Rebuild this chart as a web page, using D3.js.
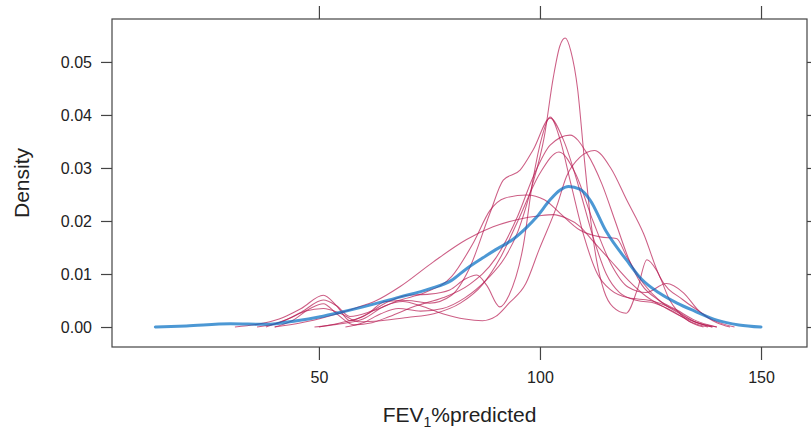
<!DOCTYPE html>
<html>
<head>
<meta charset="utf-8">
<script src="https://cdn.jsdelivr.net/npm/d3@7"></script>
<style>
  body { margin: 0; background: #fff; }
  svg text { font-family: "Liberation Sans", Arial, sans-serif; fill: #222; }
</style>
</head>
<body>
<svg id="chart" width="811" height="437"></svg>
<script>
// density of the observed values, [FEV1 %pred, density]
const observed = [[13,0],[20,0.0002],[30,0.0006],[38,0.0005],[45,0.0012],[50,0.0019],[55,0.0028],[60,0.0038],
  [68,0.0056],[75,0.0072],[80,0.0088],[83.4,0.011],[87,0.013],[90,0.0146],[94,0.0166],[97,0.0188],[99.2,0.0207],
  [102.3,0.024],[104.5,0.0258],[106.5,0.0265],[109,0.026],[111.3,0.024],[115,0.018],[119.6,0.0126],[123,0.009],
  [127,0.0064],[131,0.0045],[135,0.003],[140,0.0013],[145,0.0004],[150,0]];

// densities of the imputed data sets
const imp1 = [[56,0],[60,0.0008],[64,0.0025],[68,0.0035],[73,0.003],[78,0.0035],[83,0.0055],[88,0.009],[92,0.013],
  [95,0.018],[98,0.026],[101,0.036],[103,0.047],[104.5,0.053],[105.7,0.0545],[107,0.052],[108.5,0.045],[110,0.032],
  [111.5,0.02],[112.8,0.0126],[114.5,0.0068],[116.5,0.0038],[119.5,0.0026],[122,0.007],[124.2,0.0127],[126.5,0.0105],
  [129.4,0.005],[133,0.0015],[137,0]];
const imp2 = [[31,0],[36,0.0005],[41,0.0015],[46,0.0035],[51,0.006],[54,0.004],[57,0.0012],[61,0.0025],[65,0.0048],
  [70,0.005],[75,0.0045],[80,0.006],[84,0.011],[88.7,0.0215],[91.7,0.0277],[95.5,0.0296],[98.5,0.0335],[102.3,0.0394],
  [105.3,0.0353],[109,0.0258],[112,0.017],[115,0.01],[118,0.0065],[122,0.005],[126,0.0045],[130,0.003],[134,0.001],[138,0]];
const imp3 = [[50,0],[55,0.0008],[60,0.002],[65,0.0045],[70,0.006],[75,0.0062],[79.6,0.007],[83,0.009],[85.7,0.0098],
  [88,0.0078],[90.9,0.0038],[93,0.006],[96.2,0.0152],[98.4,0.0277],[100.5,0.036],[102.3,0.0396],[104.5,0.0355],[107,0.027],
  [110,0.017],[113,0.01],[116,0.007],[120,0.0055],[125,0.005],[130,0.0035],[135,0.001],[139,0]];
const imp4 = [[40,0],[44,0.0012],[48,0.0035],[51,0.0044],[54,0.0025],[58,0.0004],[62,0.0008],[66,0.002],[72,0.004],
  [78,0.0055],[84,0.008],[90,0.013],[95,0.021],[98.5,0.0284],[102.3,0.0343],[106.8,0.0362],[110.6,0.0328],[114,0.027],
  [117,0.02],[120,0.013],[123,0.008],[127,0.005],[131,0.0032],[135,0.0013],[140,0]];
const imp5 = [[38,0],[43,0.0015],[47,0.003],[51,0.0035],[55,0.0025],[59,0.001],[64,0.0012],[70,0.0018],[76,0.0025],
  [82,0.0045],[87,0.008],[91,0.013],[95,0.02],[100,0.029],[104.3,0.033],[108,0.029],[112,0.02],[116,0.012],[120,0.0075],
  [124,0.0065],[128.6,0.0082],[132.4,0.0065],[136,0.003],[140,0.0008],[143,0]];
const imp6 = [[49,0],[54,0.0005],[60,0.0015],[65,0.004],[69,0.0048],[73,0.004],[78,0.0025],[83,0.0015],[87,0.0012],
  [90,0.002],[93,0.0045],[96.8,0.0082],[99.8,0.0146],[103.8,0.0228],[106,0.0284],[109,0.032],[112.3,0.0333],[116,0.03],
  [119.6,0.024],[123.4,0.0177],[127.1,0.0095],[132.4,0.0051],[136,0.003],[139.2,0.0013],[144,0]];
const imp7 = [[36,0],[41,0.0008],[46,0.0028],[51,0.0051],[54,0.004],[57,0.002],[62,0.003],[68,0.005],[74,0.0065],
  [80,0.0095],[85,0.016],[88.7,0.022],[92,0.0243],[97,0.0249],[101,0.024],[104.5,0.0215],[109,0.0183],[113.6,0.017],
  [117.3,0.0167],[119.6,0.0133],[123.4,0.0082],[127,0.005],[131,0.0028],[135,0.001],[139,0]];
const imp8 = [[40,0],[46,0.0008],[52,0.002],[58,0.0035],[63,0.005],[68.3,0.0076],[75.9,0.0123],[83.4,0.0165],
  [89.4,0.0189],[95,0.0203],[100,0.021],[103,0.0212],[106,0.0205],[109,0.019],[112,0.0162],[116,0.0125],[120,0.0088],
  [124,0.0058],[128,0.0038],[132,0.002],[136,0.0007],[140,0]];
const imputed = [imp1, imp2, imp3, imp4, imp5, imp6, imp7, imp8];

const xTicks = [50, 100, 150];
const yTicks = [0, 0.01, 0.02, 0.03, 0.04, 0.05];

const svg = d3.select("#chart");
const box = { left: 112, right: 807, top: 19, bottom: 347 };

const x = d3.scaleLinear().domain([3.2, 160.4]).range([box.left, box.right]);
const y = d3.scaleLinear().domain([-0.00377, 0.0581]).range([box.bottom, box.top]);

const line = d3.line()
  .x(d => x(d[0]))
  .y(d => y(d[1]))
  .curve(d3.curveMonotoneX);

const plot = svg.append("g");
// imputed first, observed on top
plot.selectAll("path.imp")
  .data(imputed)
  .enter()
  .append("path")
  .attr("class", "imp")
  .attr("d", d => line(d))
  .attr("fill", "none")
  .attr("stroke", "#B61A51")
  .attr("stroke-opacity", 0.7)
  .attr("stroke-width", 1.05);

plot.append("path")
  .attr("d", line(observed))
  .attr("fill", "none")
  .attr("stroke", "#006CC2")
  .attr("stroke-opacity", 0.7)
  .attr("stroke-width", 3)
  .attr("stroke-linecap", "round");

// frame
svg.append("rect")
  .attr("x", box.left).attr("y", box.top)
  .attr("width", box.right - box.left).attr("height", box.bottom - box.top)
  .attr("fill", "none").attr("stroke", "#444").attr("stroke-width", 1.2);

// axes: labelled on left/bottom, bare ticks on top/right
const fmt = d3.format(".2f");
svg.append("g").attr("transform", `translate(${box.left},0)`)
  .call(d3.axisLeft(y).tickValues(yTicks).tickFormat(fmt).tickSize(11).tickPadding(9));
svg.append("g").attr("transform", `translate(${box.right},0)`)
  .call(d3.axisRight(y).tickValues(yTicks).tickSize(11).tickFormat(""));
svg.append("g").attr("transform", `translate(0,${box.bottom})`)
  .call(d3.axisBottom(x).tickValues(xTicks).tickSize(13).tickPadding(12));
svg.append("g").attr("transform", `translate(0,${box.top})`)
  .call(d3.axisTop(x).tickValues(xTicks).tickSize(13).tickFormat(""));

svg.selectAll(".domain").remove();
svg.selectAll(".tick line").attr("stroke", "#444").attr("stroke-width", 1.2);
svg.selectAll(".tick text").style("font-size", "16px").style("fill", "#222")
  .style("font-family", "'Liberation Sans', Arial, sans-serif");

// axis titles
const xt = svg.append("text")
  .attr("x", (box.left + box.right) / 2)
  .attr("y", 422)
  .attr("text-anchor", "middle")
  .style("font-size", "21px");
xt.append("tspan").text("FEV");
xt.append("tspan").attr("dy", 5).style("font-size", "14px").text("1");
xt.append("tspan").attr("dy", -5).text("%predicted");

svg.append("text")
  .attr("transform", `translate(29,${(box.top + box.bottom) / 2}) rotate(-90)`)
  .attr("text-anchor", "middle")
  .style("font-size", "21px")
  .text("Density");
</script>
</body>
</html>
